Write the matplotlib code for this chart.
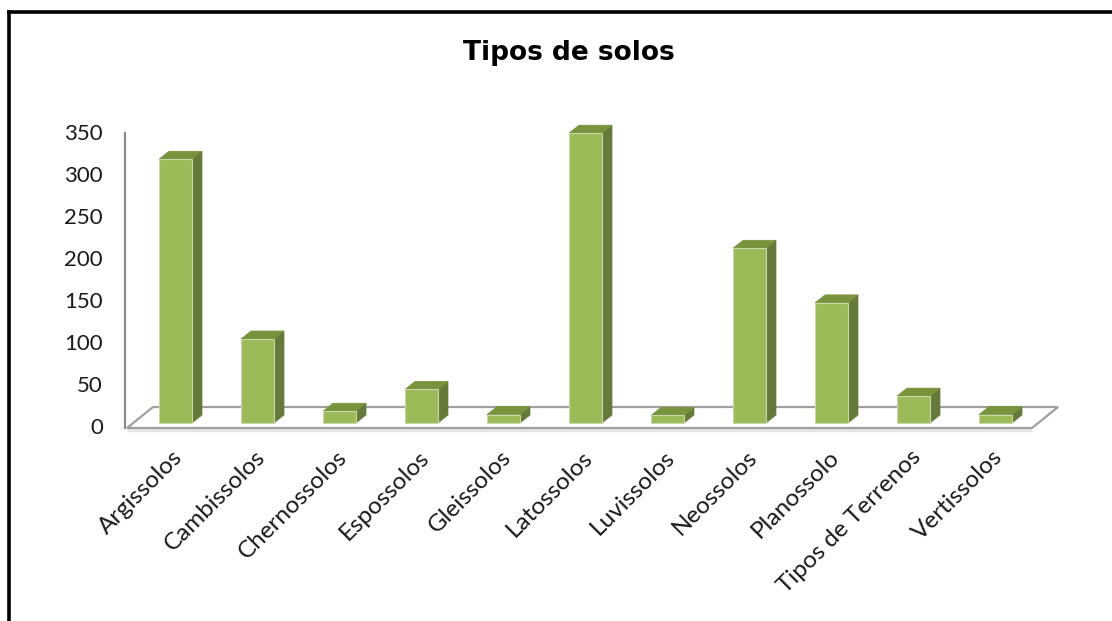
import matplotlib
matplotlib.use("Agg")
import matplotlib.pyplot as plt
import matplotlib.transforms as mtransforms
from matplotlib.patches import Polygon
from matplotlib.lines import Line2D

# ---- data ----
categories = ["Argissolos", "Cambissolos", "Chernossolos", "Espossolos", "Gleissolos",
              "Latossolos", "Luvissolos", "Neossolos", "Planossolo", "Tipos de Terrenos",
              "Vertissolos"]
values = [314, 100, 14, 40, 10, 345, 9, 208, 143, 32, 10]
yticks = [0, 50, 100, 150, 200, 250, 300, 350]
title = "Tipos de solos"

# ---- figure ----
W, H = 1112, 621
fig = plt.figure(figsize=(W / 100, H / 100), dpi=100)
fig.patch.set_facecolor("white")

# axes in pixel coordinates
ax_l, ax_r, ax_t, ax_b = 125, 1070, 120, 440
ax = fig.add_axes([ax_l / W, (H - ax_b) / H, (ax_r - ax_l) / W, (ax_b - ax_t) / H])
ax.set_facecolor("none")

px_per_cat = 82.0
px_per_unit = 0.84
cat0_px = 175.5
base_px = 423.0
ax.set_xlim((ax_l - cat0_px) / px_per_cat, (ax_r - cat0_px) / px_per_cat)
ax.set_ylim(-(ax_b - base_px) / px_per_unit, (base_px - ax_t) / px_per_unit)

# depth offsets (data units)
bar_w = 33 / px_per_cat
bdx, bdy = 10 / px_per_cat, 8 / px_per_unit
fdx, fdy = 26 / px_per_cat, 21 / px_per_unit
floor_front = -5 / px_per_unit
floor_x0 = (127 - cat0_px) / px_per_cat
floor_x1 = (1032 - cat0_px) / px_per_cat

# floor
floor = Polygon([(floor_x0, floor_front), (floor_x1, floor_front),
                 (floor_x1 + fdx, floor_front + fdy), (floor_x0 + fdx, floor_front + fdy)],
                closed=True, facecolor="white", edgecolor="#A0A0A0", lw=1.6, zorder=1)
ax.add_patch(floor)
ax.plot([floor_x0, floor_x1], [floor_front - 2.6, floor_front - 2.6], color="#E6E6E6",
        lw=2.5, zorder=0.9, solid_capstyle="butt")

# bars
xs = list(range(len(categories)))
front = "#9BBB59"
top_c = "#77933C"
side_c = "#65793A"
bars = ax.bar(xs, values, width=bar_w, color=front, edgecolor="#C9D8A8", linewidth=0.8, zorder=3)
for x, v in zip(xs, values):
    xl, xr = x - bar_w / 2, x + bar_w / 2
    side = Polygon([(xr, 0), (xr + bdx, bdy), (xr + bdx, v + bdy), (xr, v)],
                   closed=True, facecolor=side_c, edgecolor=side_c, lw=0.5, zorder=2.5)
    top = Polygon([(xl, v), (xr, v), (xr + bdx, v + bdy), (xl + bdx, v + bdy)],
                  closed=True, facecolor=top_c, edgecolor=top_c, lw=0.5, zorder=2.6)
    ax.add_patch(side)
    ax.add_patch(top)

# spines
for s in ["top", "right", "bottom"]:
    ax.spines[s].set_visible(False)
ax.spines["left"].set_color("#8C8C8C")
ax.spines["left"].set_linewidth(1.6)
ax.spines["left"].set_bounds(floor_front, (base_px - 133) / px_per_unit)

# y ticks
ax.set_yticks(yticks)
ax.set_yticklabels([str(t) for t in yticks], fontsize=16, family="Lato", color="#1a1a1a")
ax.tick_params(axis="y", length=0, pad=16)
shift_down = mtransforms.ScaledTranslation(0, -3 / 100, fig.dpi_scale_trans)
for lab in ax.get_yticklabels():
    lab.set_transform(lab.get_transform() + shift_down)

# x ticks
ax.set_xticks(xs)
ax.set_xticklabels(categories, rotation=45, ha="right", va="center",
                   rotation_mode="anchor", fontsize=17.5, family="Lato", color="#1a1a1a")
ax.tick_params(axis="x", length=0, pad=10)
shift_r = mtransforms.ScaledTranslation(4 / 100, 0, fig.dpi_scale_trans)
for lab in ax.get_xticklabels():
    lab.set_transform(lab.get_transform() + shift_r)

# title
fig.text(569 / W, 1 - 53 / H, title, ha="center", va="center", fontsize=19,
         fontweight="bold", family="DejaVu Sans", color="black")

# outer border (top and left)
fig.add_artist(Line2D([8.5 / W, 1.0], [1 - 12 / H, 1 - 12 / H], transform=fig.transFigure,
                      color="black", lw=2.6))
fig.add_artist(Line2D([8.5 / W, 8.5 / W], [1 - 12 / H, 0], transform=fig.transFigure,
                      color="black", lw=2.6))

fig.savefig("out.png", dpi=100, facecolor="white")
